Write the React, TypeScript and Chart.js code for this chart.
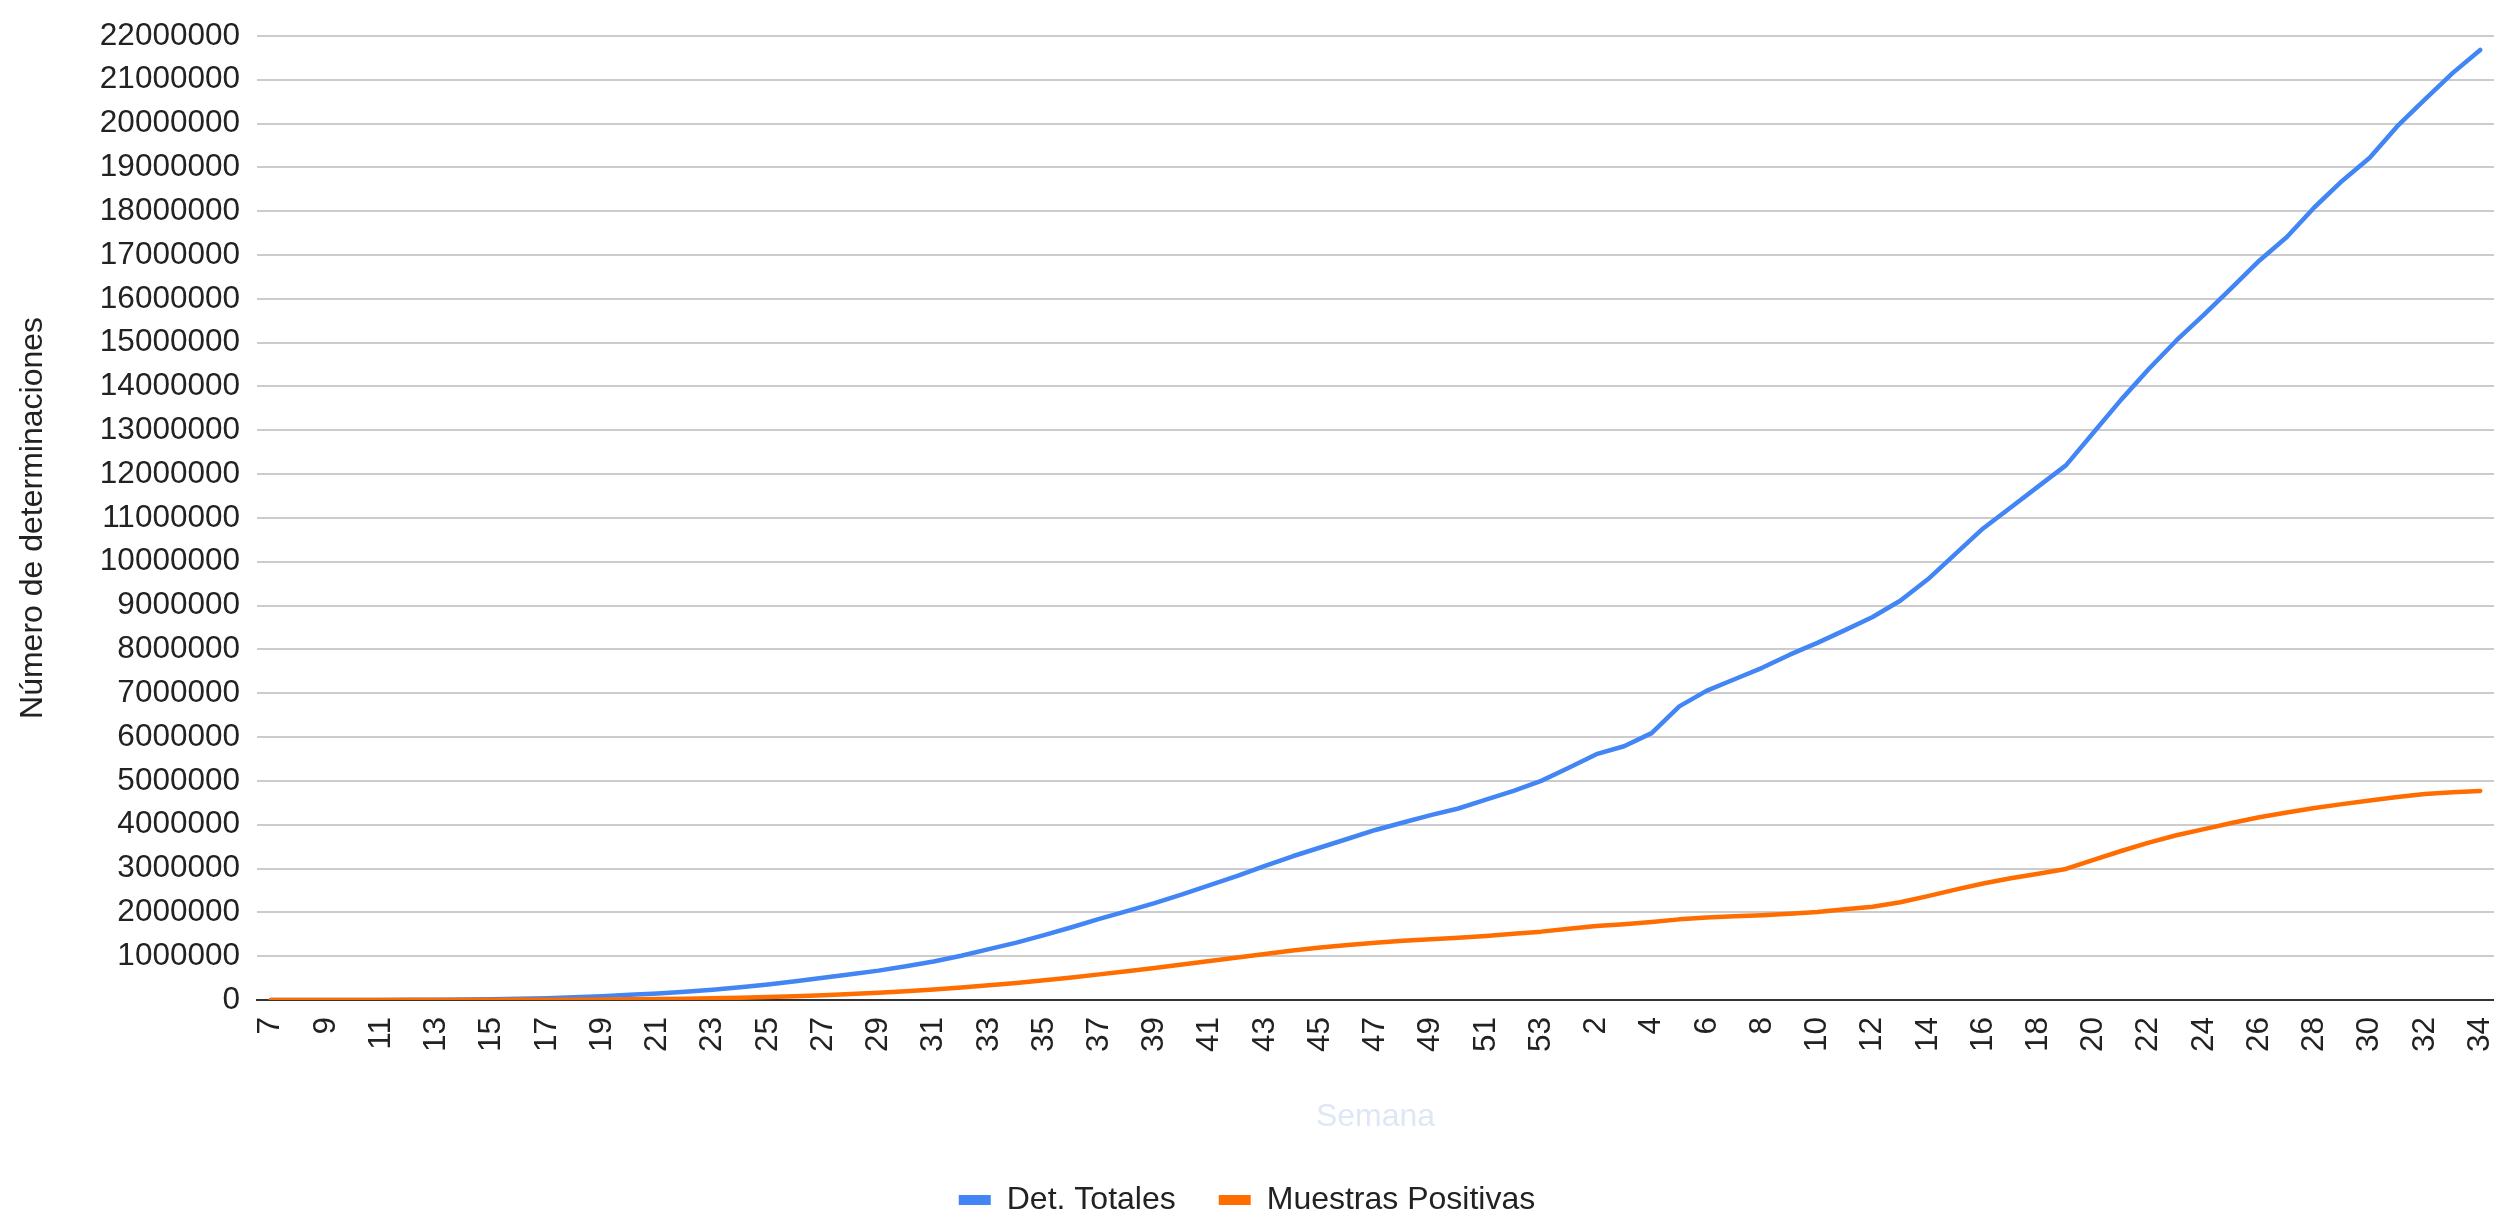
import React, { useEffect, useRef } from 'react';
import { Chart, registerables } from 'chart.js';

Chart.register(...registerables);

const semanas: string[] = [
  '7', '8', '9', '10', '11', '12', '13', '14', '15', '16', '17', '18', '19', '20',
  '21', '22', '23', '24', '25', '26', '27', '28', '29', '30', '31', '32', '33', '34',
  '35', '36', '37', '38', '39', '40', '41', '42', '43', '44', '45', '46', '47', '48',
  '49', '50', '51', '52', '53',
  '1', '2', '3', '4', '5', '6', '7', '8', '9', '10', '11', '12', '13', '14', '15',
  '16', '17', '18', '19', '20', '21', '22', '23', '24', '25', '26', '27', '28', '29',
  '30', '31', '32', '33', '34',
];

const detTotales: number[] = [
  0, 0, 0, 500, 1500, 3000, 6000, 11000, 18000, 27000, 42000, 62000, 88000, 118000,
  150000, 190000, 235000, 290000, 355000, 430000, 510000, 590000, 670000, 770000,
  880000, 1010000, 1160000, 1310000, 1480000, 1660000, 1850000, 2030000, 2210000,
  2410000, 2620000, 2830000, 3060000, 3280000, 3480000, 3680000, 3880000, 4050000,
  4220000, 4370000, 4570000, 4770000, 5000000,
  5300000, 5610000, 5790000, 6090000, 6700000, 7060000, 7320000, 7580000, 7880000,
  8150000, 8440000, 8740000, 9110000, 9600000, 10180000, 10760000, 11240000,
  11720000, 12200000, 12950000, 13700000, 14400000, 15050000, 15640000, 16250000,
  16870000, 17410000, 18090000, 18690000, 19220000, 19940000, 20550000, 21150000,
  21680000,
];

const muestrasPositivas: number[] = [
  0, 0, 0, 0, 100, 300, 600, 1000, 2000, 3000, 5000, 8000, 12000, 17000,
  23000, 31000, 41000, 54000, 70000, 88000, 110000, 135000, 165000, 200000,
  240000, 285000, 335000, 390000, 450000, 515000, 585000, 655000, 730000,
  810000, 890000, 970000, 1050000, 1130000, 1200000, 1255000, 1305000, 1350000,
  1385000, 1420000, 1460000, 1510000, 1560000,
  1625000, 1690000, 1730000, 1780000, 1840000, 1880000, 1910000, 1935000, 1970000,
  2010000, 2070000, 2130000, 2230000, 2370000, 2520000, 2660000, 2780000,
  2880000, 2990000, 3200000, 3400000, 3590000, 3760000, 3900000, 4040000,
  4170000, 4280000, 4380000, 4470000, 4550000, 4630000, 4700000, 4740000,
  4770000,
];

const seriesNames = ['Det. Totales', 'Muestras Positivas'];
const seriesColors = ['#4285f4', '#ff6d01'];
const yMax = 22000000;
const yStep = 1000000;

const FONT = "'Liberation Sans', Arial, Helvetica, sans-serif";

export default function App() {
  const ref = useRef<HTMLCanvasElement>(null);

  useEffect(() => {
    document.body.style.margin = '0';
    const canvas = ref.current;
    if (!canvas) return;
    const baseGen = (Chart as any).defaults.plugins.legend.labels.generateLabels;
    const chart = new Chart(canvas, {
      type: 'line',
      data: {
        labels: semanas,
        datasets: [
          {
            label: seriesNames[0],
            data: detTotales,
            borderColor: seriesColors[0],
            backgroundColor: seriesColors[0],
            borderWidth: 4.5,
            pointRadius: 0,
            tension: 0,
            order: 2,
          },
          {
            label: seriesNames[1],
            data: muestrasPositivas,
            borderColor: seriesColors[1],
            backgroundColor: seriesColors[1],
            borderWidth: 4.5,
            pointRadius: 0,
            tension: 0,
            order: 1,
          },
        ],
      },
      options: {
        responsive: false,
        animation: false,
        events: [],
        layout: { padding: { top: 31, left: 0, right: 0, bottom: 0 } },
        elements: {
          line: { borderJoinStyle: 'round', borderCapStyle: 'round' },
        },
        plugins: {
          tooltip: { enabled: false },
          legend: {
            position: 'bottom',
            labels: {
              font: { family: FONT, size: 32 },
              color: '#222222',
              boxWidth: 32,
              boxHeight: 10,
              padding: 43,
              sort: (a: any, b: any) => a.datasetIndex - b.datasetIndex,
              generateLabels: (c: any) =>
                baseGen(c).map((l: any) => ({ ...l, lineWidth: 0 })),
            },
          },
        },
        scales: {
          x: {
            offset: true,
            grid: { display: false, drawTicks: true, tickLength: 17 },
            border: { display: true, color: '#333333', width: 2 },
            ticks: {
              autoSkip: false,
              maxRotation: 90,
              minRotation: 90,
              padding: 0,
              color: '#222222',
              font: { family: FONT, size: 31.5 },
              callback: (_v: any, i: number) => (i % 2 === 0 ? semanas[i] : ''),
            },
            title: {
              display: true,
              text: 'Semana',
              color: '#dfe7f6',
              font: { family: FONT, size: 32 },
              padding: { top: 46, bottom: 5 },
            },
            afterFit: (s: any) => {
              s.paddingLeft = 0;
              s.paddingRight = 0;
              s.height = 141;
            },
          },
          y: {
            min: 0,
            max: yMax,
            grid: { color: '#cccccc', lineWidth: 2, drawTicks: false },
            border: { display: false },
            ticks: {
              stepSize: yStep,
              padding: 17,
              color: '#222222',
              font: { family: FONT, size: 31.5 },
              callback: (v: any) => String(v),
            },
            title: {
              display: true,
              text: 'Número de determinaciones',
              color: '#222222',
              font: { family: FONT, size: 32 },
              padding: { top: 14, bottom: 30 },
            },
            afterFit: (s: any) => {
              s.width = 257;
            },
          },
        },
      } as any,
    });
    return () => chart.destroy();
  }, []);

  return (
    <div style={{ width: 2494, height: 1215, overflow: 'hidden', background: '#ffffff' }}>
      <canvas
        ref={ref}
        width={2494}
        height={1226}
        style={{ display: 'block', width: 2494, height: 1226 }}
      />
    </div>
  );
}
